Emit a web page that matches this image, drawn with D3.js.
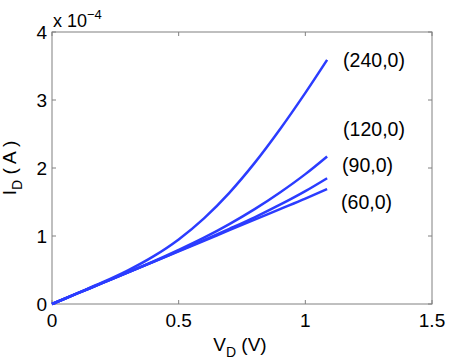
<!DOCTYPE html>
<html>
<head>
<meta charset="utf-8">
<script src="https://cdn.jsdelivr.net/npm/d3@7"></script>
<style>
  body { margin: 0; background: #fff; }
  text { font-family: "Liberation Sans", Arial, sans-serif; }
</style>
</head>
<body>
<div id="vis"></div>
<script>
// drain voltage (V) and drain current (x 1e-4 A) for each (Vg, Vs) curve
const voltages = [0, 0.1, 0.2, 0.3, 0.4, 0.5, 0.6, 0.7, 0.8, 0.9, 1.0, 1.086];
const curve60  = [0, 0.155, 0.31, 0.465, 0.62, 0.775, 0.93, 1.085, 1.24, 1.395, 1.55, 1.69];
const curve90  = [0, 0.155, 0.31, 0.465, 0.62, 0.78, 0.94, 1.105, 1.275, 1.46, 1.66, 1.85];
const curve120 = [0, 0.155, 0.31, 0.465, 0.625, 0.795, 0.975, 1.175, 1.395, 1.64, 1.91, 2.17];
const curve240 = [0, 0.16, 0.32, 0.495, 0.70, 0.95, 1.26, 1.635, 2.075, 2.57, 3.105, 3.59];
const curveNames = ["(60,0)", "(90,0)", "(120,0)", "(240,0)"];
const xTicks = [0, 0.5, 1, 1.5];
const yTicks = [0, 1, 2, 3, 4];

const W = 450, H = 357;
const margin = { top: 32, right: 18, bottom: 53, left: 52 };
const width = W - margin.left - margin.right;
const height = H - margin.top - margin.bottom;

const svg = d3.select("#vis").append("svg")
    .attr("width", W).attr("height", H);
const g = svg.append("g")
    .attr("transform", `translate(${margin.left},${margin.top})`);

const x = d3.scaleLinear().domain([0, 1.5]).range([0, width]);
const y = d3.scaleLinear().domain([0, 4]).range([height, 0]);

const axisColor = "#808080";

// box
g.append("rect")
    .attr("width", width).attr("height", height)
    .attr("fill", "none").attr("stroke", axisColor).attr("stroke-width", 1);

// inward ticks on all four sides
xTicks.forEach(t => {
    g.append("line").attr("x1", x(t)).attr("x2", x(t))
        .attr("y1", height).attr("y2", height - 4).attr("stroke", axisColor);
    g.append("line").attr("x1", x(t)).attr("x2", x(t))
        .attr("y1", 0).attr("y2", 4).attr("stroke", axisColor);
    g.append("text").attr("x", x(t)).attr("y", height + 23)
        .attr("text-anchor", "middle").attr("font-size", 19)
        .text(t);
});
yTicks.forEach(t => {
    g.append("line").attr("x1", 0).attr("x2", 4)
        .attr("y1", y(t)).attr("y2", y(t)).attr("stroke", axisColor);
    g.append("line").attr("x1", width).attr("x2", width - 4)
        .attr("y1", y(t)).attr("y2", y(t)).attr("stroke", axisColor);
    g.append("text").attr("x", -5).attr("y", y(t) + 7)
        .attr("text-anchor", "end").attr("font-size", 19)
        .text(t);
});

// exponent label
const ex = g.append("text").attr("x", 1).attr("y", -5).attr("font-size", 18);
ex.append("tspan").text("x 10");
ex.append("tspan").attr("dy", -8).attr("font-size", 13).text("\u22124");

// curves
const series = [curve60, curve90, curve120, curve240];
const line = d3.line()
    .x((d, i) => x(voltages[i]))
    .y(d => y(d))
    .curve(d3.curveMonotoneX);

series.forEach(s => {
    g.append("path").datum(s)
        .attr("d", line)
        .attr("fill", "none")
        .attr("stroke", "#2b3cff")
        .attr("stroke-width", 2.5);
});

// curve labels
const labelPos = [
    { dx: 14, dy: 20 },
    { dx: 15, dy: -6 },
    { dx: 16, dy: -20 },
    { dx: 16, dy: 7 }
];
series.forEach((s, i) => {
    const last = s.length - 1;
    g.append("text")
        .attr("x", x(voltages[last]) + labelPos[i].dx)
        .attr("y", y(s[last]) + labelPos[i].dy)
        .attr("font-size", 19.5)
        .text(curveNames[i]);
});

// axis labels
const xl = svg.append("text")
    .attr("x", 240).attr("y", 351)
    .attr("text-anchor", "middle").attr("font-size", 19);
xl.append("tspan").text("V");
xl.append("tspan").attr("dy", 6).attr("font-size", 14).text("D");
xl.append("tspan").attr("dy", -6).text(" (V)");

const yl = svg.append("text")
    .attr("transform", `translate(16,168) rotate(-90)`)
    .attr("text-anchor", "middle").attr("font-size", 19);
yl.append("tspan").text("I");
yl.append("tspan").attr("dy", 6).attr("font-size", 14).text("D");
yl.append("tspan").attr("dy", -6).text(" ( A )");
</script>
</body>
</html>
